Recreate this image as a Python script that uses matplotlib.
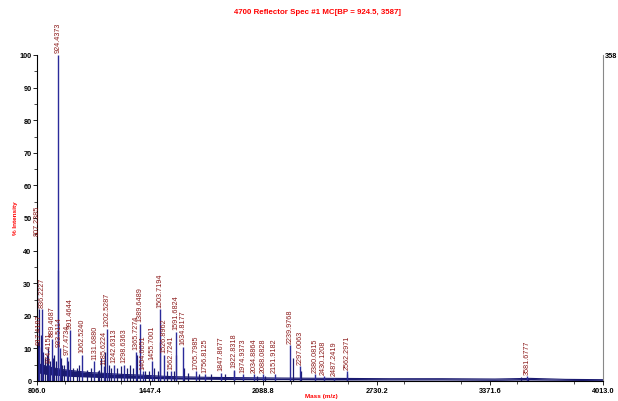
import matplotlib
matplotlib.use("Agg")
import matplotlib.pyplot as plt
from matplotlib.ticker import MultipleLocator

NARROW = ["Liberation Sans Narrow", "Liberation Sans", "DejaVu Sans"]
plt.rcParams["font.family"] = NARROW

# labelled peaks (m/z, % intensity)
peak_mz = [807.2385, 817.4187, 836.2227, 874.4151, 889.4687, 924.4373, 933.5114,
           977.4734, 991.4644, 1062.5240, 1131.6880, 1185.6224, 1202.5287, 1242.6313,
           1298.6363, 1365.7274, 1389.6489, 1404.6051, 1455.7001, 1503.7194, 1526.8962,
           1562.7241, 1591.6824, 1634.8177, 1705.7985, 1756.8125, 1847.8677, 1922.8318,
           1974.9373, 2034.8864, 2088.0828, 2151.9182, 2239.9768, 2297.0063, 2380.0815,
           2430.1208, 2487.2419, 2562.2971, 3581.6777]
peak_int = [30, 10.5, 22, 5, 13, 100, 10,
            7.5, 15.5, 8, 6, 4.5, 16, 5,
            5, 9, 17.5, 3, 6, 22, 8,
            3, 15, 10.5, 3, 2, 2.5, 3.5,
            2, 2, 2, 2, 11, 4.5, 2,
            1.5, 1, 3, 1.5]

# smaller unlabelled peaks
minor_mz = [811, 820, 828, 842, 850, 862, 868, 880, 895, 905, 912, 925.4, 940, 948,
            960, 981, 1010, 1030, 1045, 1090, 1110, 1150, 1160, 1170, 1190, 1215, 1225,
            1260, 1280, 1315, 1335, 1350, 1372, 1418, 1440, 1470, 1490, 1505, 1540,
            1580, 1593, 1640, 1660, 1725, 1790, 1870, 1925, 2050, 2100, 2255, 2300,
            2565, 3550, 3590]
minor_int = [12, 22, 14, 9, 7, 8, 10, 6, 7, 8, 6, 34, 7, 5,
             5, 6, 4, 4, 5, 3.5, 4, 3, 3.5, 7, 9, 5, 4,
             4, 4.5, 4, 5, 4, 8, 3, 3, 4, 3, 12, 3,
             3, 8, 4, 2.5, 2, 2, 2, 3, 1.5, 1.5, 7, 3,
             2, 1.2, 1]

# noisy baseline band across the mass range (upper and lower edge)
base_mz = [806, 830, 860, 900, 950, 1000, 1100, 1200, 1300, 1400, 1500, 1600,
           1800, 2000, 2200, 2500, 2800, 3100, 3400, 3600, 3800, 4013]
base_hi = [5.5, 5, 4.5, 4, 3.5, 3.2, 2.6, 2.3, 2.0, 1.8, 1.5, 1.3,
           1.1, 1.0, 0.9, 0.8, 0.7, 0.7, 0.6, 0.8, 0.5, 0.4]
base_lo = [2.5, 2.3, 2.0, 1.8, 1.6, 1.4, 1.2, 1.0, 0.9, 0.8, 0.7, 0.6,
           0.5, 0.4, 0.4, 0.3, 0.3, 0.3, 0.2, 0.3, 0.2, 0.1]

# extra room for crowded labels (in % units)
lift = {807.2385: 14}

navy = "#1a1a70"
label_red = "#8b1a1a"

fig = plt.figure(figsize=(6.18, 4.02), dpi=100)
ax = fig.add_axes([37 / 618, 20 / 402, 566 / 618, 326 / 402])

ax.fill_between(base_mz, base_lo, base_hi, color=navy, lw=0)
ax.plot(base_mz, base_hi, color=navy, lw=0.8)
ax.vlines(minor_mz, 0, minor_int, color=navy, lw=0.9)
ax.vlines(peak_mz, 0, peak_int, color="#2b2b9a", lw=1.0)

for mz, h in zip(peak_mz, peak_int):
    y = h + 0.8 + lift.get(mz, 0)
    ax.text(mz, y, f"{mz:.4f}", rotation=90, ha="center", va="bottom",
            fontsize=5.2, color=label_red)

ax.set_xlim(806.0, 4013.0)
ax.set_ylim(0, 100)
ax.set_xticks([806.0, 1447.4, 2088.8, 2730.2, 3371.6, 4013.0])
ax.set_xticklabels(["806.0", "1447.4", "2088.8", "2730.2", "3371.6", "4013.0"])
ax.xaxis.set_minor_locator(MultipleLocator(320.7))
ax.yaxis.set_major_locator(MultipleLocator(10))
ax.yaxis.set_minor_locator(MultipleLocator(5))
ax.tick_params(labelsize=5.3, length=3, width=0.6, pad=1)
ax.tick_params(which="minor", length=2, width=0.5)
for lab in ax.get_xticklabels() + ax.get_yticklabels():
    lab.set_fontweight("bold")

ax.spines["top"].set_visible(False)
ax.spines["right"].set_color("#888888")
ax.spines["left"].set_linewidth(0.8)
ax.spines["bottom"].set_linewidth(0.8)

ax.text(1.004, 1.0, "358", transform=ax.transAxes, fontsize=5.3,
        fontweight="bold", va="center", ha="left")

fig.text(318 / 618, 1 - 13 / 402, "4700 Reflector Spec #1 MC[BP = 924.5, 3587]",
         color="red", fontsize=5.7, fontweight="bold", ha="center", va="center")
fig.text(15 / 618, 1 - 218 / 402, "% Intensity", color="red", fontsize=4.6,
         fontweight="bold", rotation=90, ha="center", va="center")
fig.text(321 / 618, 1 - 397 / 402, "Mass (m/z)", color="red", fontsize=4.6,
         fontweight="bold", ha="center", va="center")

fig.savefig("out.png", dpi=100)
